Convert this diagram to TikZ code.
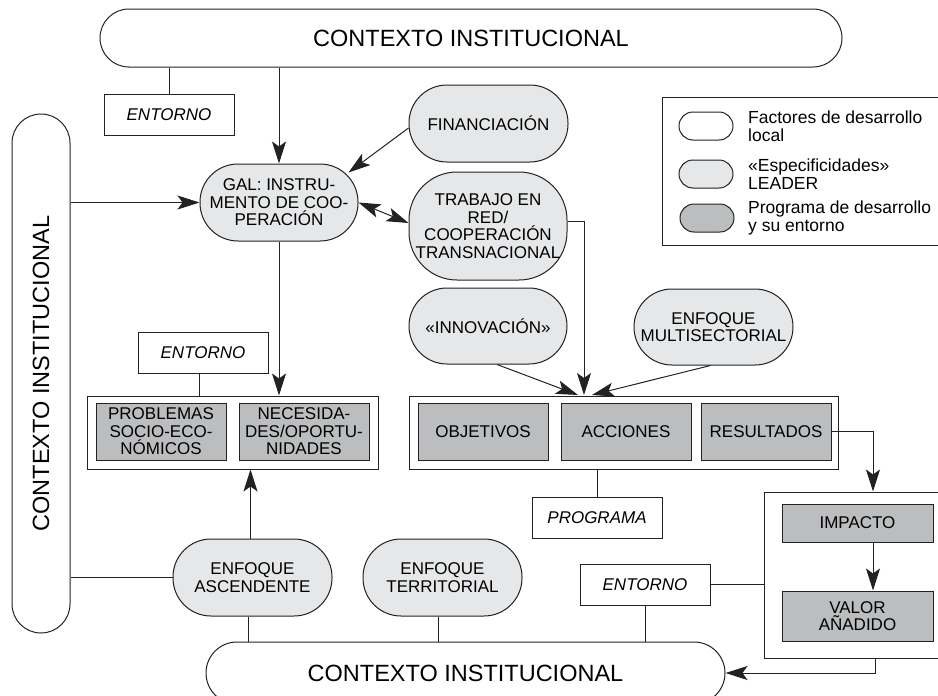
\documentclass[tikz,border=0pt]{standalone}
\usepackage{fontspec}
\setmainfont{Liberation Sans}
\usetikzlibrary{arrows.meta,calc}
\definecolor{lgray}{HTML}{E6E7E8}
\definecolor{dgray}{HTML}{BCBDBF}
\definecolor{lnc}{HTML}{222222}
\newcommand\mainf{\fontsize{17}{17.5}\selectfont}
\newcommand\bigf{\fontsize{23.5}{26}\selectfont}
\newcommand\legf{\fontsize{17.5}{18}\selectfont}
\tikzset{
  base/.style={draw=lnc, line width=1pt, inner sep=0pt, align=center, font=\mainf},
  ctx/.style={base, fill=white, font=\bigf},
  spec/.style={base, fill=lgray},
  specc/.style={spec, minimum width=159pt, minimum height=77pt, rounded corners=38pt},
  prog/.style={base, fill=dgray, minimum width=130pt, minimum height=57pt},
  env/.style={base, fill=white, font=\mainf\itshape, minimum width=130pt, minimum height=41pt},
  frame/.style={draw=lnc, line width=1pt, inner sep=0pt, fill=white},
  legcap/.style={base, minimum width=54pt, minimum height=28pt, rounded corners=14pt},
  legtext/.style={anchor=west, align=left, inner sep=0pt, font=\legf},
  arr/.style={-{Stealth[length=22pt,width=14pt,inset=5pt]}, line width=1pt, draw=lnc},
  arrb/.style={{Stealth[length=22pt,width=14pt,inset=5pt]}-{Stealth[length=22pt,width=14pt,inset=5pt]}, line width=1pt, draw=lnc},
  ln/.style={line width=1pt, draw=lnc}
}
\begin{document}
\begin{tikzpicture}[x=1pt,y=-1pt]
\useasboundingbox (0,0) rectangle (938,696);
\clip (0,0) rectangle (938,696);

% contexts
\node[ctx, minimum width=742pt, minimum height=58pt, rounded corners=29pt] (topctx) at (471,38) {CONTEXTO INSTITUCIONAL};
\node[ctx, minimum width=519pt, minimum height=58pt, rounded corners=29pt, rotate=90] (leftctx) at (41,373.5) {CONTEXTO INSTITUCIONAL};
\node[ctx, minimum width=519pt, minimum height=62pt, rounded corners=31pt] (botctx) at (465.5,673) {CONTEXTO INSTITUCIONAL};

% upper part
\node[env] (ent1) at (169,114.5) {ENTORNO};
\node[specc, minimum width=158pt] (gal) at (279,202.5) {GAL: INSTRU-\\MENTO DE COO-\\PERACIÓN};
\node[specc] (fin) at (488.5,123.5) {FINANCIACIÓN};
\node[spec, minimum width=158pt, minimum height=108pt, rounded corners=48pt] (trab) at (488,226) {TRABAJO EN\\RED/\\COOPERACIÓN\\TRANSNACIONAL};
\node[specc, minimum width=158pt, minimum height=76pt] (innov) at (488,326) {«INNOVACIÓN»};
\node[specc, minimum height=76pt] (multi) at (713.5,327) {ENFOQUE\\MULTISECTORIAL};

% legend
\node[frame, minimum width=288pt, minimum height=148pt] (leg) at (806,171) {};
\node[legcap, fill=white] (lw) at (706,126) {};
\node[legcap, fill=lgray] (lg) at (706,174) {};
\node[legcap, fill=dgray] (ld) at (707,218) {};
\node[legtext] (tw) at (748,126) {Factores de desarrollo\\local};
\node[legtext] (tg) at (748,174) {«Especificidades»\\LEADER};
\node[legtext] (td) at (748,218) {Programa de desarrollo\\y su entorno};

% left problem box
\node[env] (ent2) at (203,352.5) {ENTORNO};
\node[frame, minimum width=291pt, minimum height=73pt] (lbox) at (232.5,432.5) {};
\node[prog] (prob) at (161,431.5) {PROBLEMAS\\SOCIO-ECO-\\NÓMICOS};
\node[prog] (nec) at (304,431.5) {NECESIDA-\\DES/OPORTU-\\NIDADES};

% program box
\node[frame, minimum width=429pt, minimum height=73pt] (pbox) at (623.5,432.5) {};
\node[prog] (obj) at (483,431.5) {OBJETIVOS};
\node[prog] (acc) at (626,431.5) {ACCIONES};
\node[prog] (res) at (766,431.5) {RESULTADOS};
\node[env] (progr) at (597,517.5) {PROGRAMA};

% right box
\node[frame, minimum width=186pt, minimum height=166pt] (rbox) at (857,575) {};
\node[prog, minimum width=151pt, minimum height=38pt] (imp) at (857.5,523) {IMPACTO};
\node[prog, minimum width=151pt, minimum height=50pt] (val) at (857.5,616) {VALOR\\AÑADIDO};
\node[env] (ent3) at (645,584.5) {ENTORNO};

% lower approaches
\node[specc] (asc) at (252.5,577.5) {ENFOQUE\\ASCENDENTE};
\node[specc] (terr) at (442.5,577.5) {ENFOQUE\\TERRITORIAL};

\coordinate (pin) at (584,395);

% connectors
\draw[ln] (ent1.north |- topctx.south) -- (ent1.north);
\draw[arr] (gal.north |- topctx.south) -- (gal.north);
\draw[arr] (leftctx.south |- gal.west) -- (gal.west);
\draw[arr] (fin.west) ++(0,4.5) -- ([xshift=-10pt,yshift=-9pt]gal.north east);
\draw[arrb] (gal.east) -- ([yshift=3pt]trab.west);
\draw[arr] ([yshift=5pt]trab.east) -| (pin);
\draw[arr] ([xshift=9pt]innov.south) -- ([xshift=-6pt]pin);
\draw[arr] ([xshift=-3pt]multi.south) -- ([xshift=8pt]pin);
\draw[arr] (gal.south) -- (gal.south |- lbox.north);
\draw[ln] ([xshift=-4pt]ent2.south) -- ([xshift=-4pt]ent2.south |- lbox.north);
\draw[arr] ([xshift=-2pt]asc.north) -- ([xshift=-2pt]asc.north |- lbox.south);
\draw[ln] (leftctx.south |- asc.west) -- (asc.west);
\draw[ln] ([xshift=-4pt]asc.south) -- ([xshift=-4pt]asc.south |- botctx.north);
\draw[ln] ([xshift=-4pt]terr.south) -- ([xshift=-4pt]terr.south |- botctx.north);
\draw[ln] (progr.north |- pbox.south) -- (progr.north);
\draw[arr] (res.east) -| ([xshift=16pt]rbox.north);
\draw[arr] ([xshift=15.5pt]imp.south) -- ([xshift=15.5pt]imp.south |- val.north);
\draw[ln] (ent3.east) -- (rbox.west |- ent3.east);
\draw[ln] (ent3.south) -- (ent3.south |- botctx.north);
\draw[arr] ([xshift=18pt]rbox.south) |- (botctx.east);
\end{tikzpicture}
\end{document}
